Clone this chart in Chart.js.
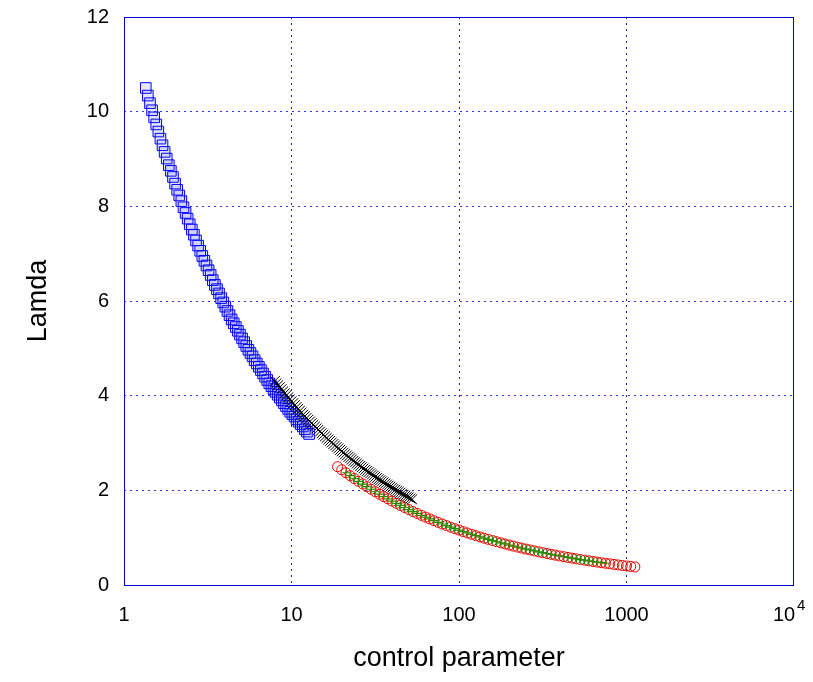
<!DOCTYPE html>
<html>
<head>
<meta charset="utf-8">
<title>Lamda vs control parameter</title>
<script src="https://cdn.jsdelivr.net/npm/chart.js@4.4.1/dist/chart.umd.min.js"></script>
<style>
  html, body { margin: 0; padding: 0; background: #fff; }
  #wrap { width: 813px; height: 682px; position: relative; }
</style>
</head>
<body>
<div id="wrap"><canvas id="chart"></canvas></div>
<script>
// Axis ticks
const xTicks = [1, 10, 100, 1000, 10000];
const yTicks = [0, 2, 4, 6, 8, 10, 12];

// Blue squares
const blueX = [1.349, 1.388, 1.429, 1.471, 1.514, 1.558, 1.603, 1.650, 1.698, 1.748, 1.799, 1.852, 1.905, 1.961, 2.018, 2.077, 2.138, 2.200, 2.265, 2.331, 2.399, 2.469, 2.541, 2.615, 2.692, 2.771, 2.851, 2.934, 3.020, 3.108, 3.199, 3.292, 3.388, 3.487, 3.589, 3.694, 3.802, 3.913, 4.027, 4.145, 4.266, 4.391, 4.519, 4.651, 4.786, 4.926, 5.070, 5.218, 5.370, 5.527, 5.689, 5.855, 6.026, 6.202, 6.383, 6.569, 6.761, 6.958, 7.161, 7.370, 7.586, 7.808, 8.035, 8.270, 8.511, 8.760, 9.016, 9.279, 9.550, 9.829, 10.12, 10.42, 10.72, 11.03, 11.35, 11.68, 12.02, 12.37, 12.74];
const blueY = [10.50, 10.34, 10.18, 10.03, 9.88, 9.73, 9.58, 9.43, 9.29, 9.15, 9.01, 8.87, 8.75, 8.62, 8.48, 8.35, 8.23, 8.11, 7.98, 7.86, 7.74, 7.62, 7.51, 7.40, 7.28, 7.17, 7.06, 6.95, 6.85, 6.75, 6.65, 6.55, 6.44, 6.34, 6.25, 6.16, 6.06, 5.97, 5.88, 5.79, 5.70, 5.61, 5.53, 5.45, 5.37, 5.29, 5.21, 5.13, 5.05, 4.97, 4.90, 4.83, 4.75, 4.68, 4.61, 4.54, 4.47, 4.40, 4.33, 4.26, 4.20, 4.14, 4.08, 4.02, 3.96, 3.90, 3.84, 3.78, 3.72, 3.66, 3.61, 3.56, 3.50, 3.45, 3.40, 3.35, 3.29, 3.24, 3.19];

// Black crosses
const blackX = [7.943, 8.128, 8.318, 8.511, 8.710, 8.913, 9.120, 9.333, 9.550, 9.772, 10.00, 10.23, 10.47, 10.72, 10.96, 11.22, 11.48, 11.75, 12.02, 12.30, 12.59, 12.88, 13.18, 13.49, 13.80, 14.13, 14.45, 14.79, 15.14, 15.49, 15.85, 16.22, 16.60, 16.98, 17.38, 17.78, 18.20, 18.62, 19.05, 19.50, 19.95, 20.42, 20.89, 21.38, 21.88, 22.39, 22.91, 23.44, 23.99, 24.55, 25.12, 25.70, 26.30, 26.92, 27.54, 28.18, 28.84, 29.51, 30.20, 30.90, 31.62, 32.36, 33.11, 33.88, 34.67, 35.48, 36.31, 37.15, 38.02, 38.90, 39.81, 40.74, 41.69, 42.66, 43.65, 44.67, 45.71, 46.77, 47.86, 48.98, 50.12, 51.29, 52.48];
const blackY = [4.31, 4.26, 4.22, 4.18, 4.135, 4.09, 4.05, 4.01, 3.964, 3.92, 3.881, 3.84, 3.80, 3.76, 3.72, 3.68, 3.642, 3.60, 3.566, 3.53, 3.491, 3.454, 3.418, 3.382, 3.346, 3.311, 3.276, 3.241, 3.207, 3.173, 3.140, 3.107, 3.074, 3.042, 3.010, 2.978, 2.947, 2.916, 2.885, 2.855, 2.825, 2.795, 2.765, 2.736, 2.707, 2.679, 2.651, 2.623, 2.595, 2.568, 2.541, 2.514, 2.488, 2.461, 2.435, 2.409, 2.384, 2.359, 2.334, 2.309, 2.285, 2.261, 2.237, 2.213, 2.190, 2.167, 2.144, 2.121, 2.099, 2.077, 2.055, 2.033, 2.012, 1.991, 1.970, 1.949, 1.929, 1.908, 1.888, 1.868, 1.849, 1.829, 1.810];

// Red circles
const redX = [18.84, 19.95, 21.13, 22.39, 23.71, 25.12, 26.61, 28.18, 29.85, 31.62, 33.50, 35.48, 37.58, 39.81, 42.17, 44.67, 47.32, 50.12, 53.09, 56.23, 59.57, 63.10, 66.83, 70.79, 74.99, 79.43, 84.14, 89.13, 94.41, 100.0, 105.9, 112.2, 118.9, 125.9, 133.4, 141.3, 149.6, 158.5, 167.9, 177.8, 188.4, 199.5, 211.3, 223.9, 237.1, 251.2, 266.1, 281.8, 298.5, 316.2, 335.0, 354.8, 375.8, 398.1, 421.7, 446.7, 473.2, 501.2, 530.9, 562.3, 595.7, 631.0, 668.3, 707.9, 749.9, 794.3, 841.4, 891.3, 944.1, 1000, 1059, 1122];
const redY = [2.50, 2.435, 2.371, 2.309, 2.249, 2.190, 2.133, 2.077, 2.023, 1.970, 1.918, 1.868, 1.820, 1.772, 1.726, 1.681, 1.637, 1.594, 1.552, 1.512, 1.472, 1.434, 1.396, 1.360, 1.324, 1.289, 1.256, 1.223, 1.191, 1.160, 1.129, 1.100, 1.071, 1.043, 1.016, 0.989, 0.964, 0.938, 0.914, 0.890, 0.867, 0.844, 0.822, 0.800, 0.780, 0.759, 0.740, 0.720, 0.701, 0.683, 0.665, 0.648, 0.631, 0.614, 0.598, 0.583, 0.567, 0.553, 0.538, 0.524, 0.510, 0.497, 0.484, 0.471, 0.459, 0.447, 0.435, 0.424, 0.413, 0.402, 0.392, 0.381];

// Green plus signs
const greenX = [21.13, 22.39, 23.71, 25.12, 26.61, 28.18, 29.85, 31.62, 33.50, 35.48, 37.58, 39.81, 42.17, 44.67, 47.32, 50.12, 53.09, 56.23, 59.57, 63.10, 66.83, 70.79, 74.99, 79.43, 84.14, 89.13, 94.41, 100.0, 105.9, 112.2, 118.9, 125.9, 133.4, 141.3, 149.6, 158.5, 167.9, 177.8, 188.4, 199.5, 211.3, 223.9, 237.1, 251.2, 266.1, 281.8, 298.5, 316.2, 335.0, 354.8, 375.8, 398.1, 421.7, 446.7, 473.2, 501.2, 530.9, 562.3, 595.7, 631.0, 668.3, 707.9, 749.9];
const greenY = [2.371, 2.309, 2.249, 2.190, 2.133, 2.077, 2.023, 1.970, 1.918, 1.868, 1.820, 1.772, 1.726, 1.681, 1.637, 1.594, 1.552, 1.512, 1.472, 1.434, 1.396, 1.360, 1.324, 1.289, 1.256, 1.223, 1.191, 1.160, 1.129, 1.100, 1.071, 1.043, 1.016, 0.989, 0.964, 0.938, 0.914, 0.890, 0.867, 0.844, 0.822, 0.800, 0.780, 0.759, 0.740, 0.720, 0.701, 0.683, 0.665, 0.648, 0.631, 0.614, 0.598, 0.583, 0.567, 0.553, 0.538, 0.524, 0.510, 0.497, 0.484, 0.471, 0.459];

const toPoints = (xs, ys) => xs.map((x, i) => ({ x: x, y: ys[i] }));

const FONT = "'Liberation Sans', Arial, sans-serif";

// Solid blue frame round the plot area, and the exponent of the 10^4 tick
const frame = {
  id: 'frame',
  beforeDatasetsDraw(chart) {
    const { ctx, chartArea: a } = chart;
    ctx.save();
    ctx.strokeStyle = '#0000d0';
    ctx.lineWidth = 1;
    ctx.setLineDash([]);
    ctx.strokeRect(a.left + 0.5, a.top + 0.5, a.right - a.left - 1, a.bottom - a.top);
    ctx.restore();
  },
  afterDraw(chart) {
    const { ctx, chartArea: a } = chart;
    const px = chart.scales.x.getPixelForValue(10000);
    ctx.save();
    ctx.fillStyle = '#000';
    ctx.font = '15px ' + FONT;
    ctx.textAlign = 'left';
    ctx.textBaseline = 'alphabetic';
    ctx.fillText('4', px + 3, a.bottom + 25);
    ctx.restore();
  }
};

const edgeClear = (isEdge, color) => ctx => isEdge(ctx.tick && ctx.tick.value) ? 'rgba(0,0,0,0)' : color;

new Chart(document.getElementById('chart'), {
  type: 'scatter',
  data: {
    datasets: [
      {
        label: 'blue',
        data: toPoints(blueX, blueY),
        pointStyle: 'rect',
        pointRadius: 7.5,
        borderColor: '#0000ff',
        backgroundColor: 'rgba(60,60,255,0.12)',
        borderWidth: 1,
        order: 4
      },
      {
        label: 'red',
        data: toPoints(redX, redY),
        pointStyle: 'circle',
        pointRadius: 5,
        borderColor: '#ee0000',
        backgroundColor: 'rgba(0,0,0,0)',
        borderWidth: 1,
        order: 3
      },
      {
        label: 'green',
        data: toPoints(greenX, greenY),
        pointStyle: 'cross',
        pointRadius: 4,
        borderColor: '#2e8a00',
        backgroundColor: '#2e8a00',
        borderWidth: 1.2,
        order: 2
      },
      {
        label: 'black',
        data: toPoints(blackX, blackY),
        pointStyle: 'crossRot',
        pointRadius: 7,
        borderColor: '#000000',
        backgroundColor: '#000000',
        borderWidth: 1,
        order: 1
      }
    ]
  },
  options: {
    responsive: true,
    maintainAspectRatio: false,
    animation: false,
    devicePixelRatio: 1,
    layout: { padding: { top: 17, right: 19, left: 0, bottom: 0 } },
    plugins: {
      legend: { display: false },
      tooltip: { enabled: false }
    },
    scales: {
      x: {
        type: 'logarithmic',
        min: 1,
        max: 10000,
        afterBuildTicks: scale => { scale.ticks = xTicks.map(v => ({ value: v })); },
        afterFit: scale => {
          scale.height = 97;
          scale.paddingLeft = 0;
          scale.paddingRight = 0;
        },
        ticks: {
          color: '#000',
          font: { family: FONT, size: 20 },
          padding: 18,
          maxRotation: 0,
          autoSkip: false,
          callback: v => v === 10000 ? '10\u2003' : String(v)
        },
        grid: {
          drawTicks: false,
          color: edgeClear(v => v === 1 || v === 10000, 'rgba(20,20,140,0.95)'),
          lineWidth: 1
        },
        border: { display: false, dash: [2, 4] },
        title: {
          display: true,
          text: 'control parameter',
          color: '#000',
          font: { family: FONT, size: 27 },
          padding: { top: 0, bottom: 7 }
        }
      },
      y: {
        type: 'linear',
        min: 0,
        max: 12,
        afterBuildTicks: scale => { scale.ticks = yTicks.map(v => ({ value: v })); },
        afterFit: scale => {
          scale.width = 124;
          scale.paddingTop = 0;
          scale.paddingBottom = 0;
        },
        ticks: {
          color: '#000',
          font: { family: FONT, size: 20 },
          padding: 15
        },
        grid: {
          drawTicks: false,
          color: edgeClear(v => v === 0 || v === 12, 'rgba(40,40,220,0.95)'),
          lineWidth: 1
        },
        border: { display: false, dash: [2, 4] },
        title: {
          display: true,
          text: 'Lamda',
          color: '#000',
          font: { family: FONT, size: 27 },
          padding: { top: 22, bottom: 0 }
        }
      }
    }
  },
  plugins: [frame]
});
</script>
</body>
</html>
